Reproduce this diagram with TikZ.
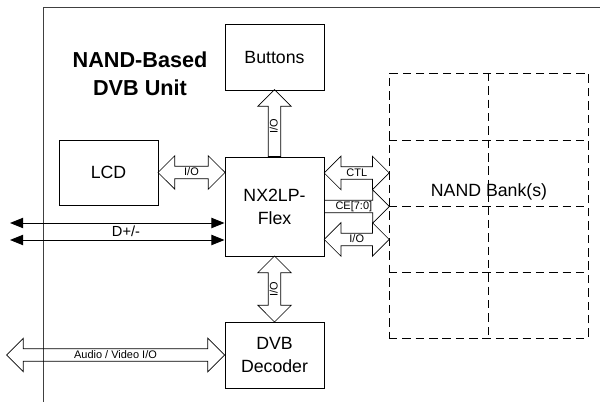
\documentclass[tikz,border=0pt]{standalone}
\usepackage{fontspec}
\setmainfont{Liberation Sans}
\usetikzlibrary{shapes.arrows,arrows.meta,calc}

\tikzset{
  unit/.style={draw, line width=0.7pt, minimum width=2.475cm, minimum height=1.65cm,
    align=center, font=\fontsize{12.6}{16.4}\selectfont},
  bus/.style={draw, line width=0.5pt, double arrow, double arrow head extend=0.2625cm,
    inner xsep=0pt, inner ysep=1pt, text height=5.4pt, text depth=1pt, outer sep=0pt,
    font=\fontsize{7.8}{8}\selectfont},
  onebus/.style={bus, single arrow, single arrow head extend=0.2625cm},
  bankline/.style={draw, dash pattern=on 6pt off 3.5pt, line width=0.6pt},
  dline/.style={line width=0.7pt, {Triangle[length=0.33cm,width=0.26cm]}-{Triangle[length=0.33cm,width=0.26cm]}},
}

\begin{document}
\begin{tikzpicture}
\useasboundingbox (0,0) rectangle (15,-10.05);
\draw[line width=0.7pt, black!75] (15,-0.175) -- (1.075,-0.175) -- (1.075,-10.05);
\node[font=\fontsize{15.4}{20}\selectfont\bfseries, align=center] (title) at (3.5,-1.85) {NAND-Based\\DVB Unit};

\node[unit] (btn) at (6.8625,-1.425) {Buttons};
\node[unit, minimum height=1.625cm] (lcd) at (2.7125,-4.3125) {LCD};
\node[unit, minimum height=2.475cm] (nx) at (6.8625,-5.1625) {NX2LP-\\Flex};
\node[unit] (dvb) at (6.8625,-8.875) {DVB\\Decoder};

% nand bank
\node[bankline, outer sep=0pt, minimum width=4.975cm, minimum height=6.625cm] (nand) at (12.2125,-5.1375) {};
\draw[bankline] (nand.north) -- (nand.south);
\foreach \y in {-3.5,-5.15,-6.8}
  \draw[bankline] (nand.west |- 0,\y) -- (nand.east |- 0,\y);
\node[font=\fontsize{12.6}{16}\selectfont] (banktxt) at (12.225,-4.8) {NAND Bank(s)};

% buses
\node[onebus, rotate=90, minimum height=1.675cm, anchor=tail] (btnio) at (nx.north) {I/O};
\node[bus, minimum height=1.675cm] (lcdio) at ($(lcd.east)!.5!(lcd.east -| nx.west)$) {I/O};
\node[bus, rotate=90, minimum height=1.65cm] (dvbio) at ($(nx.south)!.5!(dvb.north)$) {I/O};
\node[bus, minimum height=5.45cm] (av) at ($(dvb.west)+(-2.725,0)$) {Audio / Video I/O};

\coordinate (ctl) at ($(nx.east)+(0,0.8375)$);
\coordinate (io) at ($(nx.east)+(0,-0.825)$);
\node[bus, minimum height=1.625cm] (ctlbus) at ($(ctl)!.5!(ctl -| nand.west)$) {CTL};
\node[onebus, minimum height=1.625cm, anchor=tail] (cebus) at (nx.east) {CE[7:0]};
\node[bus, minimum height=1.625cm] (iobus) at ($(io)!.5!(io -| nand.west)$) {I/O};

% usb lines
\coordinate (dp) at (0.25,-5.575);
\coordinate (dm) at (0.25,-6.0);
\draw[dline] (dp) -- (dp -| nx.west);
\draw[dline] (dm) -- (dm -| nx.west);
\node[font=\fontsize{10.4}{12}\selectfont] (dlbl) at (3.15,-5.79) {D+/-};
\end{tikzpicture}
\end{document}
